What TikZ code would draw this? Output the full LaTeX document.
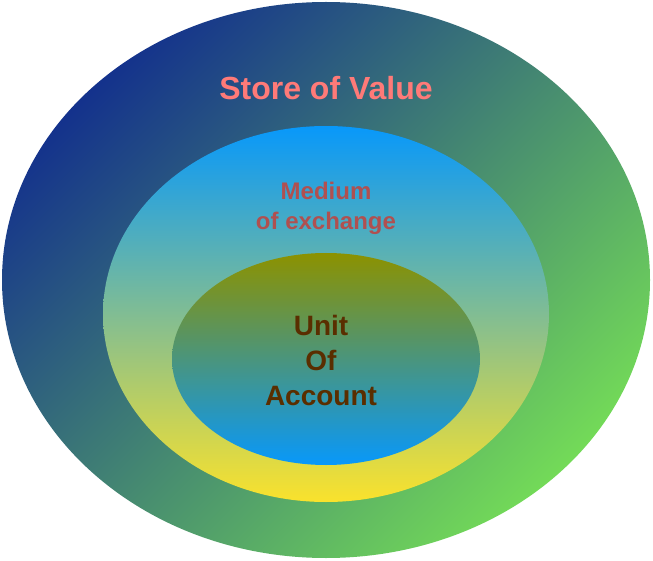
\documentclass[tikz,border=0pt]{standalone}
\usepackage{fontspec}
\setmainfont{Liberation Sans}
\usetikzlibrary{positioning}
\definecolor{deepblue}{RGB}{20,50,140}
\definecolor{leafgreen}{RGB}{115,218,88}
\definecolor{skyblue}{RGB}{8,152,250}
\definecolor{sunyellow}{RGB}{250,226,44}
\definecolor{olive}{RGB}{140,146,0}
\definecolor{salmon}{RGB}{255,122,120}
\definecolor{brickred}{RGB}{176,80,80}
\definecolor{darkbrown}{RGB}{90,46,0}
\tikzset{
    ringtext/.style={
        font=\bfseries,
        align=center,
        inner sep=0pt
    }
}

\begin{document}
\begin{tikzpicture}[x=1pt,y=-1pt]
   \useasboundingbox (0,0) rectangle (653,561);
   % outer ring
   \shade[left color=deepblue, right color=leafgreen, shading angle=45] (326,280) ellipse [x radius=324, y radius=278];
   % middle ring
   \shade[top color=skyblue, bottom color=sunyellow] (326,314) ellipse [x radius=223, y radius=188];
   % inner ring
   \shade[top color=olive, bottom color=skyblue] (326,359) ellipse [x radius=154, y radius=106];
   \node[ringtext, salmon, font=\bfseries\fontsize{32}{35}\selectfont] (store) at (326,88) {Store of Value};
   \node[ringtext, brickred, font=\bfseries\fontsize{24}{30}\selectfont] (medium) at (326,208) {Medium\\of exchange};
   \node[ringtext, darkbrown, font=\bfseries\fontsize{28}{35}\selectfont] (unit) at (321,360) {Unit\\Of\\Account};
\end{tikzpicture}
\end{document}
